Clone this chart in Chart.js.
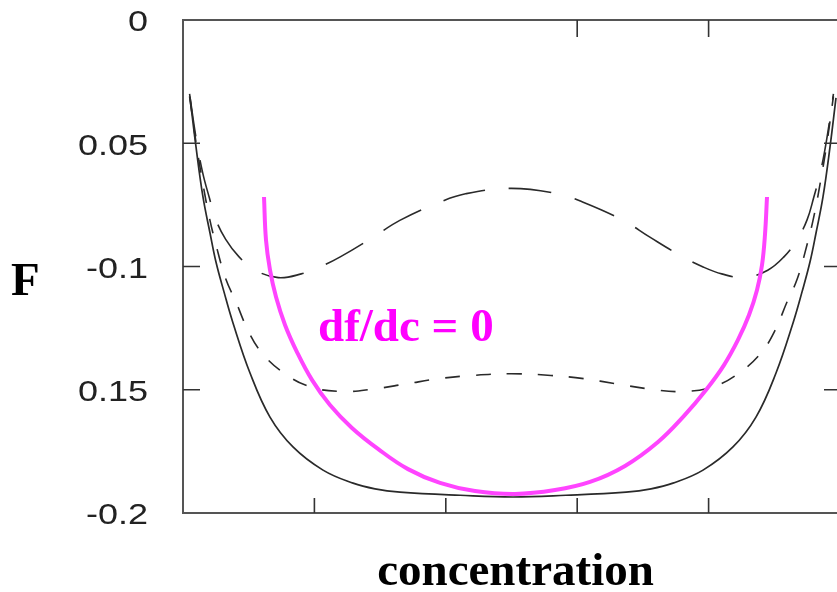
<!DOCTYPE html>
<html>
<head>
<meta charset="utf-8">
<script src="https://cdn.jsdelivr.net/npm/chart.js@4.4.1/dist/chart.umd.min.js"></script>
<style>
  html, body { margin: 0; padding: 0; overflow: hidden; background: #fff; }
  #wrap { width: 845px; height: 592px; }
</style>
</head>
<body>
<div id="wrap"><canvas id="chart" width="845" height="592"></canvas></div>
<script>
// Free energy F vs concentration, three temperatures + df/dc = 0 locus (magenta)
const INK = "#2a2a2a";
const FRAME = "#555";
const MAGENTA_LINE = "#ff44ff";
const MAGENTA_TEXT = "#ff00ff";

// solid curve (lowest)
const cSolid = [0.0107, 0.0198, 0.0304, 0.0411, 0.0502, 0.0624, 0.0761, 0.102, 0.1324, 0.1674, 0.2131, 0.2588, 0.2922, 0.3303, 0.4216, 0.5023,
                0.583, 0.6743, 0.7124, 0.7458, 0.7915, 0.8371, 0.8721, 0.9026, 0.9285, 0.9422, 0.9543, 0.9635, 0.9741, 0.9848, 0.9939];
const fSolid = [-0.0316, -0.0515, -0.0718, -0.0864, -0.0982, -0.1103, -0.1229, -0.1432, -0.1611, -0.1732, -0.1826, -0.1879, -0.1902, -0.1915, -0.1928, -0.1935,
                -0.1928, -0.1915, -0.1902, -0.1879, -0.1826, -0.1732, -0.1611, -0.1432, -0.1229, -0.1103, -0.0982, -0.0864, -0.0718, -0.0515, -0.0316];

// long-dash curve (top)
const cLong = [0.01, 0.02, 0.03, 0.04, 0.05, 0.065, 0.085, 0.11, 0.145, 0.18, 0.21, 0.24, 0.29, 0.33, 0.39, 0.43, 0.50,
               0.57, 0.61, 0.67, 0.71, 0.76, 0.79, 0.82, 0.855, 0.89, 0.915, 0.935, 0.95, 0.96, 0.97, 0.98, 0.99];
const fLong = [-0.030, -0.048, -0.062, -0.072, -0.081, -0.089, -0.096, -0.1015, -0.1045, -0.103, -0.100, -0.096, -0.088, -0.0813, -0.074, -0.0705, -0.0683,
               -0.0705, -0.074, -0.0813, -0.088, -0.096, -0.100, -0.103, -0.1045, -0.1015, -0.096, -0.089, -0.081, -0.072, -0.062, -0.048, -0.030];

// short-dash curve (middle)
const cShort = [0.01, 0.02, 0.03, 0.04, 0.05, 0.065, 0.08, 0.10, 0.12, 0.15, 0.19, 0.24, 0.29, 0.34, 0.39, 0.44, 0.50,
                0.56, 0.61, 0.66, 0.71, 0.76, 0.81, 0.85, 0.88, 0.90, 0.92, 0.935, 0.95, 0.96, 0.97, 0.98, 0.99];
const fShort = [-0.031, -0.050, -0.066, -0.080, -0.091, -0.105, -0.114, -0.1265, -0.135, -0.1425, -0.1485, -0.1507, -0.1497, -0.1476, -0.1455, -0.1442, -0.1435,
                -0.1442, -0.1455, -0.1476, -0.1497, -0.1507, -0.1485, -0.1425, -0.135, -0.1265, -0.114, -0.105, -0.091, -0.080, -0.066, -0.050, -0.031];

// df/dc = 0 locus
const cSpin = [0.1233, 0.1263, 0.1324, 0.1416, 0.1553, 0.1735, 0.1963, 0.2237, 0.2572, 0.2968, 0.3425, 0.3912, 0.4444, 0.5053,
               0.5662, 0.6195, 0.6728, 0.723, 0.7626, 0.796, 0.8234, 0.8447, 0.8615, 0.8737, 0.8813, 0.8858, 0.8889];
const fSpin = [-0.0718, -0.0892, -0.1014, -0.1124, -0.1237, -0.1347, -0.146, -0.1562, -0.1655, -0.174, -0.1822, -0.1878, -0.1911, -0.1923,
               -0.1907, -0.1874, -0.1809, -0.1712, -0.1606, -0.1501, -0.14, -0.1298, -0.1197, -0.1095, -0.0994, -0.0872, -0.0718];

const yTickValues = [0, -0.05, -0.1, -0.15, -0.2];
const yTickLabels = ["0", "0.05", "-0.1", "0.15", "-0.2"];
const yInnerTicks = [-0.05, -0.1, -0.15];
const xBottomTicks = [0.2, 0.4, 0.6, 0.8];
const xTopTicks = [0.6, 0.8];

const pts = (xs, ys) => xs.map((x, i) => ({ x, y: ys[i] }));

const SERIF_BOLD = 'bold 47px "Liberation Serif", "Times New Roman", serif';

const frame = {
  id: "frame",
  afterDraw(chart) {
    const { ctx, chartArea: a, scales: { x, y } } = chart;
    ctx.save();
    ctx.strokeStyle = FRAME;
    ctx.lineWidth = 2;
    ctx.strokeRect(a.left, a.top, a.right - a.left, a.bottom - a.top);

    ctx.lineWidth = 1.6;
    ctx.strokeStyle = "#333";
    ctx.beginPath();
    for (const v of yInnerTicks) {
      const py = y.getPixelForValue(v);
      ctx.moveTo(a.left, py); ctx.lineTo(a.left + 17, py);
      ctx.moveTo(a.right, py); ctx.lineTo(a.right - 16, py);
    }
    for (const v of xBottomTicks) {
      const px = x.getPixelForValue(v);
      ctx.moveTo(px, a.bottom); ctx.lineTo(px, a.bottom - 15);
    }
    for (const v of xTopTicks) {
      const px = x.getPixelForValue(v);
      ctx.moveTo(px, a.top); ctx.lineTo(px, a.top + 17);
    }
    ctx.stroke();

    // y tick labels (scanned look: slightly wide)
    ctx.fillStyle = "#222";
    ctx.font = '30px "Liberation Sans", Arial, sans-serif';
    ctx.textAlign = "right";
    ctx.textBaseline = "middle";
    yTickValues.forEach((v, i) => {
      ctx.save();
      ctx.translate(148, y.getPixelForValue(v) + 3);
      ctx.scale(1.2, 1);
      ctx.fillText(yTickLabels[i], 0, 0);
      ctx.restore();
    });

    // axis titles
    ctx.fillStyle = "#000";
    ctx.font = SERIF_BOLD;
    ctx.textBaseline = "alphabetic";
    ctx.textAlign = "left";
    ctx.fillText("F", 11, 295);
    ctx.textAlign = "center";
    ctx.fillText("concentration", x.getPixelForValue(0.5) + 4, 585);

    ctx.fillStyle = MAGENTA_TEXT;
    ctx.textAlign = "left";
    ctx.fillText("df/dc = 0", 318, 341);
    ctx.restore();
  },
};

new Chart(document.getElementById("chart"), {
  type: "line",
  data: {
    datasets: [
      { data: pts(cSpin, fSpin), borderColor: MAGENTA_LINE, borderWidth: 4 },
      { data: pts(cSolid, fSolid), borderColor: INK, borderWidth: 1.7 },
      { data: pts(cLong, fLong), borderColor: INK, borderWidth: 1.6, borderDash: [43, 24] },
      { data: pts(cShort, fShort), borderColor: INK, borderWidth: 1.6, borderDash: [15, 16] },
    ],
  },
  options: {
    responsive: false,
    animation: false,
    devicePixelRatio: 1,
    layout: { padding: { left: 183, right: 5, top: 20, bottom: 79 } },
    elements: { point: { radius: 0 }, line: { tension: 0.4, fill: false } },
    plugins: { legend: { display: false }, tooltip: { enabled: false } },
    scales: {
      x: { type: "linear", min: 0, max: 1, display: false },
      y: { min: -0.2, max: 0, display: false },
    },
  },
  plugins: [frame],
});
</script>
</body>
</html>
